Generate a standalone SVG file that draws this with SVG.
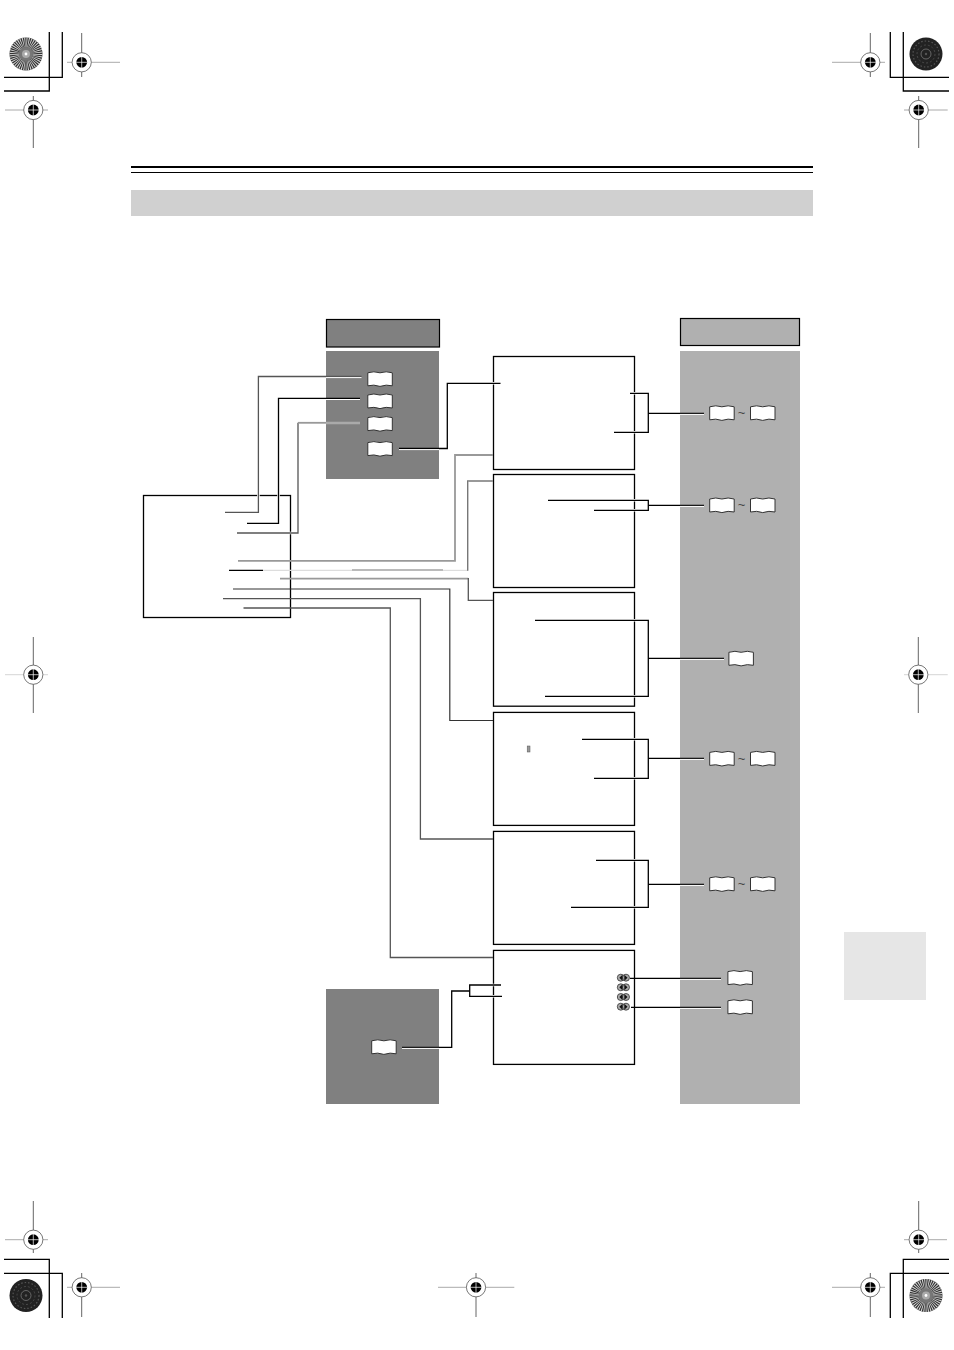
<svg xmlns="http://www.w3.org/2000/svg" xmlns:xlink="http://www.w3.org/1999/xlink" width="954" height="1350" viewBox="0 0 954 1350">
<style>
.box{fill:#fff;stroke:#000;stroke-width:1.3}
.crop{fill:none;stroke:#000;stroke-width:1.3}
.ln{fill:none;stroke:#000;stroke-width:1.3}
.g0{fill:none;stroke:#333;stroke-width:1.2}
.g1{fill:none;stroke:#555;stroke-width:1.3}
.g2{fill:none;stroke:#999;stroke-width:1.8}
.gl{fill:none;stroke:#ddd;stroke-width:1.2}
.wh{fill:none;stroke:#fff;stroke-width:1}
.halo{fill:none;stroke:#fff;stroke-width:2.6}
.v{stroke:#666;stroke-width:1}
.h{stroke:#aaa;stroke-width:1}
.h2{stroke:#ddd;stroke-width:1.2}
.tilde{font-family:"Liberation Sans",Arial,sans-serif;font-size:13px;fill:#444;text-anchor:middle}
</style>
<defs>
<g id="mark">
<circle r="9.6" fill="#fff" stroke="#555" stroke-width="0.8"/>
<circle r="5.4" fill="#000"/>
<path d="M-6 0H6M0-6V6" stroke="#fff" stroke-width="0.7"/>
</g>
<g id="book">
<path d="M0.5 2Q6.5 0 12.7 2Q19 0 25 2V15Q19 13.4 12.7 15.6Q6.5 13.4 0.5 15Z" fill="#fff" stroke="#333" stroke-width="1"/>
</g>
<g id="spk">
<circle cx="3.5" cy="4" r="3.5" fill="#aaa" stroke="#333" stroke-width="0.8"/>
<circle cx="8.7" cy="4" r="3.5" fill="#aaa" stroke="#333" stroke-width="0.8"/>
<path d="M5.2 1V7L2 4Z" fill="#111"/>
<path d="M7 1V7L10.2 4Z" fill="#111"/>
</g>
<g id="diskPale">
<circle r="16.5" fill="#333"/>
<circle r="11.5" fill="none" stroke="#ddd" stroke-width="10" stroke-dasharray="0.75 1"/>
<circle r="7" fill="#777"/>
<circle r="4" fill="#aaa"/>
<circle r="1.4" fill="#fff"/>
</g>
<g id="diskDark">
<circle r="16.5" fill="#222"/>
<circle r="13" fill="none" stroke="#555" stroke-width="1.2" stroke-dasharray="1.5 2"/>
<circle r="9" fill="none" stroke="#4a4a4a" stroke-width="1" stroke-dasharray="2 2"/>
<circle r="5" fill="none" stroke="#777" stroke-width="0.8"/>
<circle r="1.2" fill="#555"/>
</g>
</defs>
<rect width="954" height="1350" fill="#fff"/>

<g id="printer-marks">
<use href="#diskPale" x="26" y="54"/>
<use href="#diskDark" x="926" y="54"/>
<use href="#diskDark" x="26" y="1295.5"/>
<use href="#diskPale" x="926" y="1295.5"/>
<path class="crop" d="M4 77.3H62.3V32M4 91H49.3V32"/>
<path class="crop" d="M949 77.3H890.3V32M949 91H903.3V32"/>
<path class="crop" d="M4 1259.3H49.3V1318M4 1273.3H62.3V1318"/>
<path class="crop" d="M949 1259.3H903.3V1318M949 1273.3H890.3V1318"/>
<g>
<path class="h" d="M67 62.3H120"/><path class="v" d="M81.7 33V77"/><use href="#mark" x="81.7" y="62.3"/>
<path class="h" d="M5 110H48"/><path class="v" d="M33.3 96V148"/><use href="#mark" x="33.3" y="110"/>
<path class="h" d="M832 62.3H885"/><path class="v" d="M870.3 33V77"/><use href="#mark" x="870.3" y="62.3"/>
<path class="h" d="M904 110H947.7"/><path class="v" d="M918.7 96V148"/><use href="#mark" x="918.7" y="110"/>
<path class="h2" d="M5 674.7H48"/><path class="v" d="M33.3 637V713"/><use href="#mark" x="33.3" y="674.7"/>
<path class="h2" d="M904 674.7H947.7"/><path class="v" d="M918.3 637V713"/><use href="#mark" x="918.3" y="674.7"/>
<path class="h" d="M5 1239.7H48"/><path class="v" d="M33.3 1201V1253"/><use href="#mark" x="33.3" y="1239.7"/>
<path class="h" d="M67 1287.3H120"/><path class="v" d="M81.7 1273V1317"/><use href="#mark" x="81.7" y="1287.3"/>
<path class="h" d="M438 1287.3H514.3"/><path class="v" d="M476 1273V1317"/><use href="#mark" x="476" y="1287.3"/>
<path class="h" d="M832 1287.3H885"/><path class="v" d="M870.3 1273V1317"/><use href="#mark" x="870.3" y="1287.3"/>
<path class="h" d="M904 1239.7H947"/><path class="v" d="M918.7 1201V1253"/><use href="#mark" x="918.7" y="1239.7"/>
</g>
</g>

<g id="page-header">
<rect x="131" y="166" width="682" height="2" fill="#000"/>
<rect x="131" y="172" width="682" height="1" fill="#000"/>
<rect x="131" y="190" width="682" height="26" fill="#d0d0d0"/>
<rect x="844" y="932" width="82" height="68" fill="#e6e6e6"/>
</g>

<g id="panels">
<rect id="dark-header" x="326.5" y="319.5" width="113" height="27.5" fill="#808080" stroke="#000" stroke-width="1.2"/>
<rect id="dark-panel-top" x="326" y="351" width="113" height="128" fill="#808080"/>
<rect id="dark-panel-bottom" x="326" y="989" width="113" height="115" fill="#808080"/>
<rect id="light-header" x="680.5" y="318.5" width="119" height="27" fill="#b0b0b0" stroke="#000" stroke-width="1.2"/>
<rect id="light-panel" x="680" y="351" width="120" height="753" fill="#b0b0b0"/>
</g>

<g id="boxes">
<rect id="box-left" class="box" x="143.5" y="495.5" width="147" height="122"/>
<rect id="box-1" class="box" x="493.5" y="356.5" width="141" height="113"/>
<rect id="box-2" class="box" x="493.5" y="474.5" width="141" height="113"/>
<rect id="box-3" class="box" x="493.5" y="592.5" width="141" height="113.7"/>
<rect id="box-4" class="box" x="493.5" y="712.4" width="141" height="113"/>
<rect id="box-5" class="box" x="493.5" y="831.4" width="141" height="113"/>
<rect id="box-6" class="box" x="493.5" y="950.4" width="141" height="114"/>
</g>

<g id="connectors">
<g id="connector-halos">
<path class="halo" d="M258.4 492V499M278.5 492V499M287 533H294"/>
<path class="halo" d="M490 383.3H497M490 985H497M490 996.3H497"/>
<path class="halo" d="M630 393.3H640M628 432.3H640M628 500.3H640M628 510.3H640M628 620.3H640M628 696.3H640M628 739.3H640M628 778.3H640M628 860.3H640M628 907.3H640"/>
</g>
<path class="g1" d="M225 512.3H258.4V376.5H361.5"/>
<path class="wh" d="M326 377.6H361.5"/>
<path class="ln" d="M247 523.3H278.5V398.4H360"/>
<path class="wh" d="M326 399.5H360"/>
<path class="g1" d="M237 533H298V422.8"/>
<path class="g2" d="M298 422.8H326"/>
<path d="M326 423H360" fill="none" stroke="#aaa" stroke-width="2.4"/>
<path class="ln" d="M399 448.5H447.3V383.3H500.5"/>
<path class="wh" d="M399 449.6H439"/>
<path class="g2" d="M238 560.8H455V455H493"/>
<path class="ln" d="M229 570.4H263"/>
<path class="gl" d="M263 570.4H352"/>
<path d="M352 570H443" fill="none" stroke="#777" stroke-width="1.1"/>
<path class="gl" d="M443 570.4H467.7"/>
<path d="M467.7 570.8V481H493" fill="none" stroke="#777" stroke-width="1.4"/>
<path class="g2" d="M493 481H468"/>
<path class="g2" d="M280 578.7H468.3"/>
<path class="g1" d="M468.3 578V600.3H493"/>
<path class="g0" d="M233 589H449.8V720.5H493"/>
<path class="g1" d="M223 598.7H420.4V839H493"/>
<path class="g1" d="M243.5 608H390.3V957.5H493"/>

<path class="ln" d="M630 393.3H648.3V432.3H614"/>
<path class="ln" d="M648.3 413.3H704"/><path class="wh" d="M680 414.4H704"/>
<path class="ln" d="M548 500.3H648.3V510.3H594"/>
<path class="ln" d="M648.3 505.3H704"/><path class="wh" d="M680 506.4H704"/>
<path class="ln" d="M535 620.3H648.3V696.3H545"/>
<path class="ln" d="M648.3 658.3H724"/><path class="wh" d="M680 659.4H724"/>
<path class="ln" d="M582 739.3H648.3V778.3H594"/>
<path class="ln" d="M648.3 758.3H704"/><path class="wh" d="M680 759.4H704"/>
<path class="ln" d="M596 860.3H648.3V907.3H571"/>
<path class="ln" d="M648.3 884.3H704"/><path class="wh" d="M680 885.4H704"/>
<path class="ln" d="M630 978.3H721"/><path class="wh" d="M680 979.4H721"/>
<path class="ln" d="M631 1007.3H721"/><path class="wh" d="M680 1008.4H721"/>
<path class="ln" d="M501 985H469.7V996.3H502"/>
<path class="ln" d="M469.7 991H451.7V1047.3H402"/>
<path class="wh" d="M402 1048.4H439"/>
</g>

<g id="refs-left">
<use href="#book" x="367.3" y="370.8"/>
<use href="#book" x="367.3" y="393"/>
<use href="#book" x="367.3" y="415.6"/>
<use href="#book" x="367.3" y="440.6"/>
<use href="#book" x="371.2" y="1038.8"/>
</g>
<g id="refs-right">
<use href="#book" x="709.2" y="404.8"/><text class="tilde" x="741.5" y="417">~</text><use href="#book" x="750" y="404.8"/>
<use href="#book" x="709.2" y="497"/><text class="tilde" x="741.5" y="509">~</text><use href="#book" x="750" y="497"/>
<use href="#book" x="728.4" y="650.3"/>
<use href="#book" x="709.2" y="750.4"/><text class="tilde" x="741.5" y="762.5">~</text><use href="#book" x="750" y="750.4"/>
<use href="#book" x="709.2" y="875.8"/><text class="tilde" x="741.5" y="888">~</text><use href="#book" x="750" y="875.8"/>
<use href="#book" x="727.4" y="969.6"/>
<use href="#book" x="727.4" y="998.8"/>
</g>
<g id="speaker-icons">
<use href="#spk" x="617.3" y="973.7"/>
<use href="#spk" x="617.3" y="983.3"/>
<use href="#spk" x="617.3" y="993"/>
<use href="#spk" x="617.3" y="1002.7"/>
</g>
<g id="box-4-glyph">
<rect x="527.2" y="746" width="2.8" height="6" fill="#999" stroke="#555" stroke-width="0.5"/>
</g>
</svg>
